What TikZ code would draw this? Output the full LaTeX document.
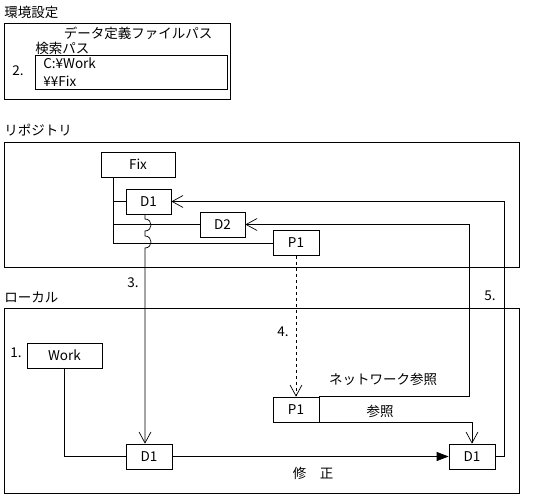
\documentclass[tikz,border=0pt]{standalone}
\usepackage{fontspec}
\setmainfont{Noto Sans CJK JP}
\usetikzlibrary{arrows.meta, positioning}

\begin{document}
\begin{tikzpicture}[x=1pt, y=-1pt, line width=0.7pt,
	font=\fontsize{13.5}{15}\selectfont,
	frame/.style = {draw, inner sep=0pt},
	item/.style = {shape=rectangle, draw, fill=white, inner sep=0pt, minimum height=25pt},
	open/.style = {-{Straight Barb[length=11pt, width=12pt]}},
	filltip/.style = {-{Triangle[length=12pt, width=9pt]}},
	title/.style = {anchor=west, inner sep=0pt}]
	\useasboundingbox (0,0) rectangle (536,497);
	% environment settings
	\node[title] (envT) at (4,12) {環境設定};
	\node[frame, minimum width=226pt, minimum height=76pt] (env) at (117,61) {};
	\node (defT) at (138,33) {データ定義ファイルパス};
	\node[title] (srch) at (35,48) {検索パス};
	\node[frame, minimum width=192pt, minimum height=34pt] (paths) at (131,72) {};
	\node[title] (pW) at (43,63) {C:¥Work};
	\node[title] (pF) at (43,81) {¥¥Fix};
	\node (n2) at (18,71) {2.};
	% repository
	\node[title] (repoT) at (4,130) {リポジトリ};
	\node[frame, minimum width=515pt, minimum height=125pt] (repo) at (261.5,204.5) {};
	\node[item, minimum width=74pt] (Fix) at (138,164.5) {Fix};
	\node[item, minimum width=45pt] (D1r) at (148.5,201.5) {D1};
	\node[item, minimum width=45pt] (D2r) at (222.5,224.5) {D2};
	\node[item, minimum width=46pt] (P1r) at (296,243) {P1};
	% local
	\node[title] (locT) at (4,297) {ローカル};
	\node[frame, minimum width=515pt, minimum height=185pt] (local) at (261.5,400.5) {};
	\node[item, minimum width=75pt] (Work) at (64.5,355.5) {Work};
	\node (n1) at (16,353) {1.};
	\node[item, minimum width=46pt] (D1l) at (149,456.5) {D1};
	\node[item, minimum width=46pt] (P1l) at (296,409.5) {P1};
	\node[item, minimum width=46pt] (D1e) at (472,456.5) {D1};
	% connectors
	\coordinate (trunk) at (113,0);
	\coordinate (hop) at (145,0);
	\coordinate (net) at (469,0);
	\coordinate (back) at (504,0);
	\draw (trunk |- Fix.south) -- (trunk |- P1r.west) -- (P1r.west);
	\draw (trunk |- D1r.west) -- (D1r.west);
	\draw (trunk |- D2r.west) -- (D2r.west);
	\draw[open] (hop |- D1r.south) -- (145,219) .. controls (153,219) and (153,231) .. (145,231)
		-- (145,236) .. controls (153,236) and (153,248) .. (145,248) -- (hop |- D1l.north);
	\draw[open, dashed] (P1r.south) -- (P1l.north);
	\draw (Work.south) |- (D1l.west);
	\draw[filltip] (D1l.east) -- (D1e.west);
	\draw[open] (P1l.south east) -| (D1e.north);
	\draw[open] (P1l.north east) -- (net |- P1l.north east) -- (net |- D2r.east) -- (D2r.east);
	\draw[open] (D1e.east) -- (back |- D1e.east) -- (back |- D1r.east) -- (D1r.east);
	% labels
	\node (n3) at (133,283) {3.};
	\node (n4) at (283,332) {4.};
	\node (n5) at (490,296) {5.};
	\node (netT) at (383,379) {ネットワーク参照};
	\node (refT) at (380,411) {参照};
	\node (modT) at (313,473) {修　正};
\end{tikzpicture}
\end{document}
